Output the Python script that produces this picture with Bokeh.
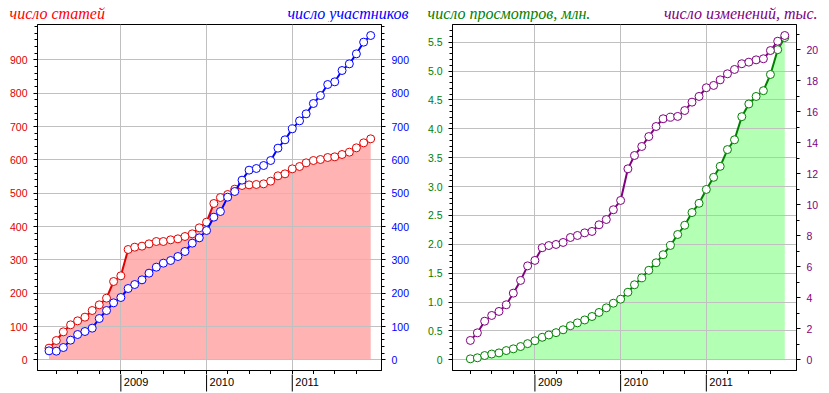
import pandas as pd
from bokeh.plotting import figure
from bokeh.layouts import row, column
from bokeh.models import Range1d, LinearAxis, FixedTicker
from bokeh.core.properties import value
from bokeh.embed import file_html
from bokeh.resources import INLINE

# ---------------- data ----------------
left_start_month = "2008-03-01"
right_start_month = "2008-04-01"

articles = [35, 58, 84, 105, 117, 128, 148, 165, 185, 235,
            252, 331, 338, 341, 348, 355, 355, 360, 363, 370, 378, 396,
            413, 469, 487, 496, 512, 523, 525, 526, 528, 536, 552, 558,
            573, 580, 591, 598, 601, 607, 609, 616, 623, 636, 651, 663]
participants = [27, 26, 37, 59, 76, 85, 95, 124, 148, 171,
                187, 214, 226, 240, 260, 278, 290, 298, 310, 325, 350, 366,
                388, 428, 445, 488, 505, 539, 569, 574, 583, 598, 635, 660,
                693, 717, 738, 769, 793, 826, 834, 868, 888, 918, 953, 973]
views_mln = [0.017, 0.035, 0.074, 0.10, 0.12, 0.16, 0.19, 0.23, 0.28,
             0.33, 0.39, 0.43, 0.47, 0.52, 0.59, 0.64, 0.69, 0.75, 0.82, 0.90, 0.98,
             1.05, 1.17, 1.30, 1.42, 1.55, 1.68, 1.82, 1.98, 2.17, 2.33, 2.55, 2.71,
             2.95, 3.16, 3.35, 3.64, 3.81, 4.21, 4.43, 4.56, 4.66, 4.94, 5.37, 5.58]
edits_thousand = [1.25, 1.74, 2.49, 2.86, 3.12, 3.55, 4.3, 5.12, 6.06,
                  6.41, 7.23, 7.37, 7.44, 7.57, 7.89, 8.02, 8.19, 8.28, 8.71, 9.05, 9.68,
                  10.28, 12.32, 13.18, 13.76, 14.4, 15.05, 15.55, 15.65, 15.7, 16.08, 16.62, 16.99,
                  17.55, 17.7, 18.06, 18.45, 18.73, 19.1, 19.2, 19.35, 19.42, 19.95, 20.55, 20.92]

year_ticks = ["2009-01-01", "2010-01-01", "2011-01-01"]
year_labels = ["2009", "2010", "2011"]
quarter_ticks = ["2008-04-01", "2008-07-01", "2008-10-01",
                 "2009-04-01", "2009-07-01", "2009-10-01",
                 "2010-04-01", "2010-07-01", "2010-10-01",
                 "2011-04-01", "2011-07-01", "2011-10-01"]

left_ticks = [0, 100, 200, 300, 400, 500, 600, 700, 800, 900]
views_ticks = [0, 0.5, 1.0, 1.5, 2.0, 2.5, 3.0, 3.5, 4.0, 4.5, 5.0, 5.5]
views_tick_labels = ["0", "0.5", "1.0", "1.5", "2.0", "2.5", "3.0", "3.5", "4.0", "4.5", "5.0", "5.5"]
edits_ticks = [0, 2, 4, 6, 8, 10, 12, 14, 16, 18, 20]

title_articles = "число статей"
title_participants = "число участников"
title_views = "число просмотров, млн."
title_edits = "число изменений, тыс."

RED = "#e00000"
TITLE_RED = "#ff0000"
BLUE = "#0000ff"
GREEN = "#008000"
PURPLE = "#800080"
PINK_FILL = "#ffb3b3"
GREEN_FILL = "#b3ffb3"
GRID = "#c0c0c0"

TICK_FONT = "Liberation Sans"

# ---------------- layout sizes ----------------
TITLE_H = 22
MAIN_TOP, MAIN_BOTTOM = 2, 4
FRAME_H = 346
MAIN_H = MAIN_TOP + FRAME_H + MAIN_BOTTOM
STRIP_H = 393 - TITLE_H - MAIN_H


def ms(d):
    return float(pd.Timestamp(d).value // 10**6)


def months_ms(start, n):
    return list(pd.date_range(start, periods=n, freq="MS").asi8 / 1e6)


def bare(width, height, x_range, y_range, left=0, right=0):
    p = figure(width=width, height=height, output_backend="svg", toolbar_location=None,
               x_range=x_range, y_range=y_range, x_axis_type=None, y_axis_type=None,
               min_border_left=left, min_border_right=right, min_border_top=0, min_border_bottom=0)
    p.outline_line_color = None
    p.grid.visible = False
    p.background_fill_color = "white"
    p.border_fill_color = "white"
    return p


def title_strip(width, texts, colors, xs, aligns):
    t = bare(width, TITLE_H, Range1d(0, width), Range1d(0, TITLE_H))
    for txt, c, x, a in zip(texts, colors, xs, aligns):
        t.text(x=[x], y=[TITLE_H - 13], text=[txt], text_color=c, text_align=a,
               text_baseline="middle", text_font=value("Liberation Serif"),
               text_font_style="italic", text_font_size=value("16px"))
    return t


def year_strip(width, left, right, x_range):
    s = bare(width, STRIP_H, x_range, Range1d(0, STRIP_H), left, right)
    yx = [ms(d) for d in year_ticks]
    s.segment(x0=yx, y0=[2] * len(yx), x1=yx, y1=[STRIP_H + 2] * len(yx),
              line_color="black", line_width=1)
    s.text(x=yx, y=[STRIP_H - 7] * len(yx), text=year_labels, x_offset=3,
           text_align="left", text_baseline="middle", text_color="black",
           text_font=value(TICK_FONT), text_font_size=value("11px"))
    return s


def style_yaxis(ax, ticker, color):
    ax.ticker = ticker
    ax.major_tick_out = 4
    ax.major_tick_in = 0
    ax.minor_tick_out = 3
    ax.minor_tick_in = 0
    ax.major_label_standoff = 6
    ax.major_label_text_font = TICK_FONT
    ax.major_label_text_font_size = "10.5px"
    ax.major_label_text_color = color
    ax.axis_line_color = "black"
    ax.major_tick_line_color = "black"
    ax.minor_tick_line_color = "black"


def main_chart(width, left, right, x_range, y_range):
    p = figure(width=width, height=MAIN_H, output_backend="svg", toolbar_location=None,
               x_range=x_range, y_range=y_range,
               min_border_left=left, min_border_right=right,
               min_border_top=MAIN_TOP, min_border_bottom=MAIN_BOTTOM)
    p.outline_line_color = "black"
    p.outline_line_alpha = 1.0
    p.background_fill_color = "white"
    p.border_fill_color = "white"

    xt = FixedTicker(ticks=[ms(d) for d in year_ticks], minor_ticks=[ms(d) for d in quarter_ticks])
    ax = p.xaxis[0]
    ax.ticker = xt
    ax.major_tick_out = 4
    ax.major_tick_in = 0
    ax.minor_tick_out = 4
    ax.minor_tick_in = 0
    ax.major_label_text_font_size = "0px"
    ax.major_label_standoff = 0
    ax.major_label_overrides = {ms(d): "" for d in year_ticks}
    ax.axis_line_color = "black"
    ax.major_tick_line_color = "black"
    ax.minor_tick_line_color = "black"

    p.xgrid.ticker = xt
    p.xgrid.grid_line_color = GRID
    p.ygrid.grid_line_color = GRID
    return p


# ---------------- left chart ----------------
lxr = Range1d(ms("2008-01-12"), ms("2012-01-16"))
lyr = Range1d(-32, 1006)
p1 = main_chart(414, 37, 33, lxr, lyr)

lt = FixedTicker(ticks=left_ticks, minor_ticks=list(range(0, 1001, 20)))
style_yaxis(p1.yaxis[0], lt, RED)
p1.ygrid.ticker = lt
rax = LinearAxis()
style_yaxis(rax, FixedTicker(ticks=left_ticks, minor_ticks=list(range(0, 1001, 20))), BLUE)
p1.add_layout(rax, "right")

xl = months_ms(left_start_month, len(articles))
p1.varea(x=xl, y1=0, y2=articles, fill_color=PINK_FILL, level="image")
p1.line(xl, articles, line_color=RED, line_width=2)
p1.scatter(xl, articles, marker="circle", size=8, fill_color="white", line_color=RED, line_width=1)
p1.line(xl, participants, line_color=BLUE, line_width=2)
p1.scatter(xl, participants, marker="circle", size=8, fill_color="white", line_color=BLUE, line_width=1)

t1 = title_strip(414, [title_articles, title_participants], [TITLE_RED, BLUE],
                 [9, 408], ["left", "right"])
s1 = year_strip(414, 37, 33, lxr)

# ---------------- right chart ----------------
rxr = Range1d(ms("2008-01-16"), ms("2012-01-20"))
ryr = Range1d(-0.185, 5.806)
p2 = main_chart(415, 38, 33, rxr, ryr)
p2.extra_y_ranges = {"edits": Range1d(-0.69, 21.63)}

vt = FixedTicker(ticks=views_ticks, minor_ticks=[i / 10 for i in range(0, 58)])
style_yaxis(p2.yaxis[0], vt, GREEN)
p2.yaxis[0].major_label_overrides = dict(zip(views_ticks, views_tick_labels))
p2.ygrid.ticker = vt
eax = LinearAxis(y_range_name="edits")
style_yaxis(eax, FixedTicker(ticks=edits_ticks, minor_ticks=list(range(0, 22))), PURPLE)
p2.add_layout(eax, "right")

xr = months_ms(right_start_month, len(views_mln))
p2.varea(x=xr, y1=0, y2=views_mln, fill_color=GREEN_FILL, level="image")
p2.line(xr, views_mln, line_color=GREEN, line_width=2)
p2.scatter(xr, views_mln, marker="circle", size=8, fill_color="white", line_color=GREEN, line_width=1)
p2.line(xr, edits_thousand, line_color=PURPLE, line_width=2, y_range_name="edits")
p2.scatter(xr, edits_thousand, marker="circle", size=8, fill_color="white", line_color=PURPLE,
           line_width=1, y_range_name="edits")

t2 = title_strip(415, [title_views, title_edits], [GREEN, PURPLE],
                 [13, 403], ["left", "right"])
s2 = year_strip(415, 38, 33, rxr)

layout = column(row(t1, t2), row(p1, p2), row(s1, s2))
open("out.html", "w").write(file_html(layout, INLINE))
